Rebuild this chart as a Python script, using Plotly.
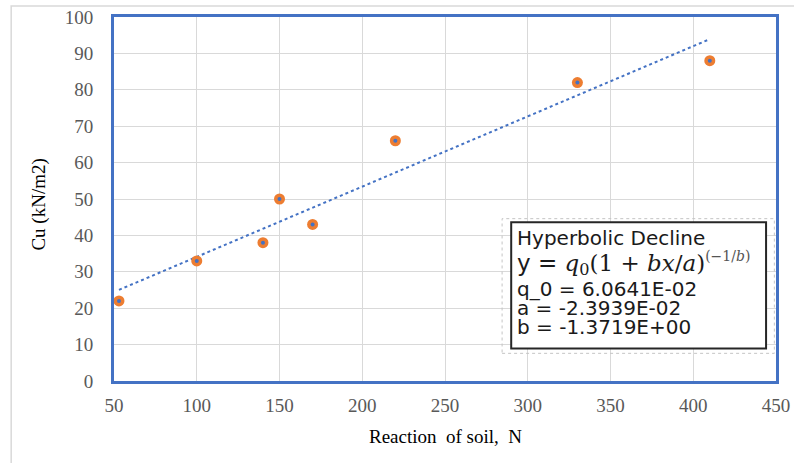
import numpy as np
import plotly.graph_objects as go

reaction = [53, 100, 140, 150, 170, 220, 330, 410]
cu = [22, 33, 38, 50, 43, 66, 82, 88]
x_ticks = [50, 100, 150, 200, 250, 300, 350, 400, 450]
y_ticks = [0, 10, 20, 30, 40, 50, 60, 70, 80, 90, 100]
x_title = "Reaction  of soil,  N"
y_title = "Cu (kN/m2)"
box_title = "Hyperbolic Decline"
box_params = ["q_0 = 6.0641E-02", "a = -2.3939E-02", "b = -1.3719E+00"]

slope, intercept = np.polyfit(reaction, cu, 1)
tx = [min(reaction), max(reaction)]
ty = [slope * v + intercept for v in tx]

serif = "Liberation Serif, Times New Roman, serif"
sans = "DejaVu Sans, Arial, sans-serif"
dserif = "DejaVu Serif, serif"

W, H = 794, 463
L, R, T, B = 114, 4, 17, 82
pw, ph = W - L - R, H - T - B

fig = go.Figure()
fig.add_trace(go.Scatter(x=tx, y=ty, mode="lines",
                         line=dict(color="#4472C4", width=2, dash="dot"),
                         hoverinfo="skip"))
fig.add_trace(go.Scatter(x=reaction, y=cu, mode="markers",
                         marker=dict(color="#ED7D31", size=11, line=dict(width=0))))
fig.add_trace(go.Scatter(x=reaction, y=cu, mode="markers",
                         marker=dict(color="#4472C4", size=4, line=dict(width=0))))

fig.update_layout(
    width=W, height=H,
    margin=dict(l=L, r=R, t=T, b=B),
    paper_bgcolor="white", plot_bgcolor="white",
    showlegend=False,
    font=dict(family=serif, color="#595959", size=19),
    xaxis=dict(range=[50, 450], tickvals=x_ticks, showgrid=True, gridcolor="#D9D9D9",
               gridwidth=1, zeroline=False, showline=True, linecolor="#4472C4",
               linewidth=3, mirror=True, ticks="", ticklabelstandoff=5,
               ticklabeloverflow="allow"),
    yaxis=dict(range=[0, 100], tickvals=y_ticks, showgrid=True, gridcolor="#D9D9D9",
               gridwidth=1, zeroline=False, showline=True, linecolor="#4472C4",
               linewidth=3, mirror=True, ticks="", ticklabelstandoff=14),
)

# axis titles
fig.add_annotation(text=x_title, xref="paper", yref="paper", x=0.5, y=(H - B - 437) / ph,
                   showarrow=False, xanchor="center", yanchor="middle",
                   font=dict(family=serif, size=19, color="black"))
fig.add_annotation(text=y_title, xref="paper", yref="paper", x=(37 - L) / pw,
                   y=(H - B - 205) / ph, showarrow=False, textangle=-90,
                   xanchor="center", yanchor="middle",
                   font=dict(family=serif, size=19, color="black"))

# outer chart border
fig.add_shape(type="rect", xref="paper", yref="paper", x0=(9 - L) / pw, x1=1.05,
              y0=-0.26, y1=(H - B - 6) / ph, line=dict(color="#D9D9D9", width=1.5),
              layer="below")

# faint selection frame around the text box
fig.add_shape(type="rect", xref="x", yref="y", x0=284.5, x1=449, y0=7.6, y1=44.6,
              line=dict(color="#C4C4C4", width=1, dash="dot"), layer="above")
# text box
fig.add_shape(type="rect", xref="x", yref="y", x0=290, x1=444, y0=8.9, y1=43.6,
              line=dict(color="#262626", width=2), fillcolor="white", layer="above")

eq = ('<span style="font-family:DejaVu Sans">y = </span>'
      '<i>q</i><sub>0</sub>(1 + <i>bx</i>/<i>a</i>)'
      '<sup><span style="font-size:14px;color:#555">(−1/<i>b</i>)</span></sup>')
lines = [(box_title, 39.3, sans, 20), (eq, 32.2, dserif, 23)]
for t, yy in zip(box_params, [25.3, 20.1, 14.9]):
    lines.append((t, yy, sans, 20))
for t, yy, fam, sz in lines:
    fig.add_annotation(x=292.5, y=yy, xref="x", yref="y", text=t, showarrow=False,
                       xanchor="left", yanchor="middle",
                       font=dict(family=fam, size=sz, color="#1a1a1a"))

fig.write_html("out.html")
